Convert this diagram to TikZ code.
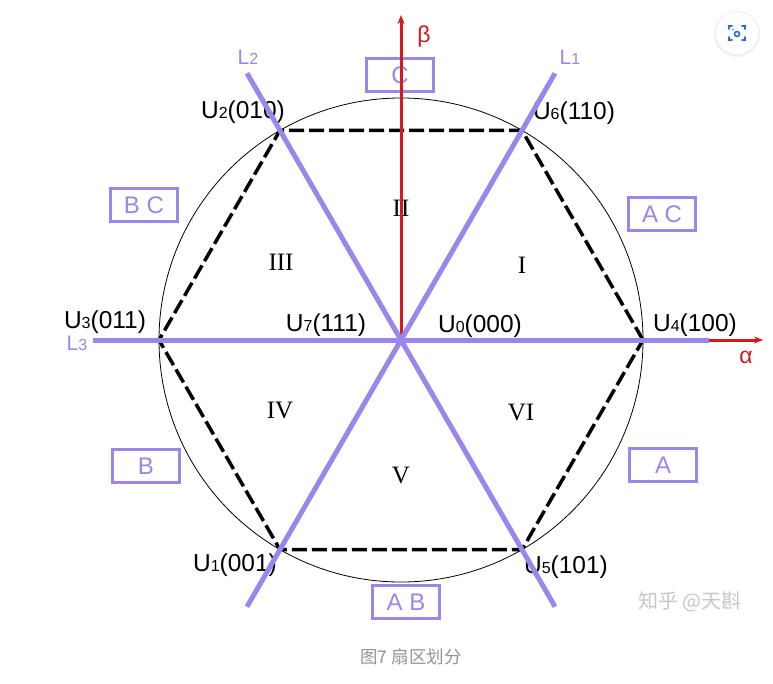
\documentclass[tikz,border=0pt]{standalone}
\usepackage{fontspec}
\setmainfont{Liberation Sans}
\newfontfamily\romanfont{Liberation Serif}
\newfontfamily\cjk{Noto Sans CJK SC}
\usetikzlibrary{arrows.meta}
\definecolor{lav}{RGB}{155,135,235}
\definecolor{axred}{RGB}{215,25,25}
\definecolor{iconblue}{RGB}{40,110,205}
\newcommand\sbs[1]{{\fontsize{16}{16}\selectfont #1}}
\begin{document}
\begin{tikzpicture}[x=1pt,y=-1pt,
 vlabel/.style={font=\fontsize{24.5}{24.5}\selectfont, inner sep=0pt, text=black},
 sector/.style={font=\romanfont\fontsize{25}{25}\selectfont, inner sep=0pt},
 phasebox/.style={draw=lav, line width=3pt, text=lav, minimum width=67pt, minimum height=33pt, inner sep=0pt, font=\fontsize{24}{24}\selectfont},
 sline/.style={lav, line width=5pt},
 hexline/.style={black, line width=3.5pt, dash pattern=on 15pt off 5pt},
 axisline/.style={axred, line width=3pt, -{Stealth[length=9pt,width=7pt]}},
 lname/.style={text=lav, font=\fontsize{21}{21}\selectfont, inner sep=0pt},
 axname/.style={text=axred, font=\fontsize{23}{23}\selectfont, inner sep=0pt}]
\useasboundingbox (0,0) rectangle (773,683);
\fill[white] (0,0) rectangle (773,683);
% geometry
\coordinate (O) at (401,340);
\coordinate (V0) at (643,340);
\coordinate (V1) at (522,130.4);
\coordinate (V2) at (280,130.4);
\coordinate (V3) at (159,340);
\coordinate (V4) at (280,549.6);
\coordinate (V5) at (522,549.6);
\coordinate (L1a) at (555,73.3);
\coordinate (L1b) at (247,606.7);
\coordinate (L2a) at (247,73.3);
\coordinate (L2b) at (555,606.7);
\coordinate (L3a) at (93,340);
\coordinate (L3b) at (709,340);
\coordinate (Btop) at (401,15);
\coordinate (Aend) at (763,340);
% circle and hexagon
\draw[line width=0.8pt] (O) circle[radius=242];
\draw[hexline] (V0) -- (V1) -- (V2) -- (V3) -- (V4) -- (V5) -- cycle;
% phase boxes
\node[phasebox] (boxC) at (400,75) {C};
\node[phasebox] (boxBC) at (144,205) {B C};
\node[phasebox] (boxAC) at (662,214) {A C};
\node[phasebox] (boxB) at (146,466) {B};
\node[phasebox] (boxA) at (663,465) {A};
\node[phasebox] (boxAB) at (406,602) {A B};
% vertex labels
\node[vlabel] (u2) at (243,112) {U\sbs{2}(010)};
\node[vlabel] (u6) at (574,113) {U\sbs{6}(110)};
\node[vlabel] (u3) at (105,322) {U\sbs{3}(011)};
\node[vlabel] (u4) at (695,325) {U\sbs{4}(100)};
\node[vlabel] (u1) at (235,565) {U\sbs{1}(001)};
\node[vlabel] (u5) at (566,567) {U\sbs{5}(101)};
\node[vlabel] (u7) at (326,325) {U\sbs{7}(111)};
\node[vlabel] (u0) at (480,326) {U\sbs{0}(000)};
% sector numerals
\node[sector] (s1) at (522,265) {I};
\node[sector] (s2) at (401,208) {II};
\node[sector] (s3) at (281,262) {III};
\node[sector] (s4) at (280,410) {IV};
\node[sector] (s5) at (401,475) {V};
\node[sector] (s6) at (521,412) {VI};
% axes
\draw[axisline] (O) -- (Btop);
\draw[axisline] (O) -- (Aend);
\node[axname] (beta) at (424,37) {β};
\node[axname] (alpha) at (746,357) {α};
% sector lines
\draw[sline] (L1a) -- (L1b);
\draw[sline] (L2a) -- (L2b);
\draw[sline] (L3a) -- (L3b);
\node[lname] (l1) at (570,57) {L\sbs{1}};
\node[lname] (l2) at (248,57) {L\sbs{2}};
\node[lname] (l3) at (77,343) {L\sbs{3}};
% watermark and caption
\node[text=black!22, font=\cjk\fontsize{20}{20}\selectfont, inner sep=0pt] (wm) at (690,602) {知乎 @天斟};
\node[text=black!42, font=\cjk\fontsize{17.5}{17.5}\selectfont, inner sep=0pt] (cap) at (411,657) {图7 扇区划分};
% icon
\fill[black!6] (737,34) circle[radius=23];
\fill[white] (737,33) circle[radius=21];
\begin{scope}[iconblue, line width=1.6pt, line cap=round]
\draw (729,29) -- (729,26) -- (732,26);
\draw (742,26) -- (745,26) -- (745,29);
\draw (745,37) -- (745,40) -- (742,40);
\draw (732,40) -- (729,40) -- (729,37);
\draw (737,34) circle[radius=2.5];
\fill (733,29.5) circle[radius=0.9];
\end{scope}
\end{tikzpicture}
\end{document}
